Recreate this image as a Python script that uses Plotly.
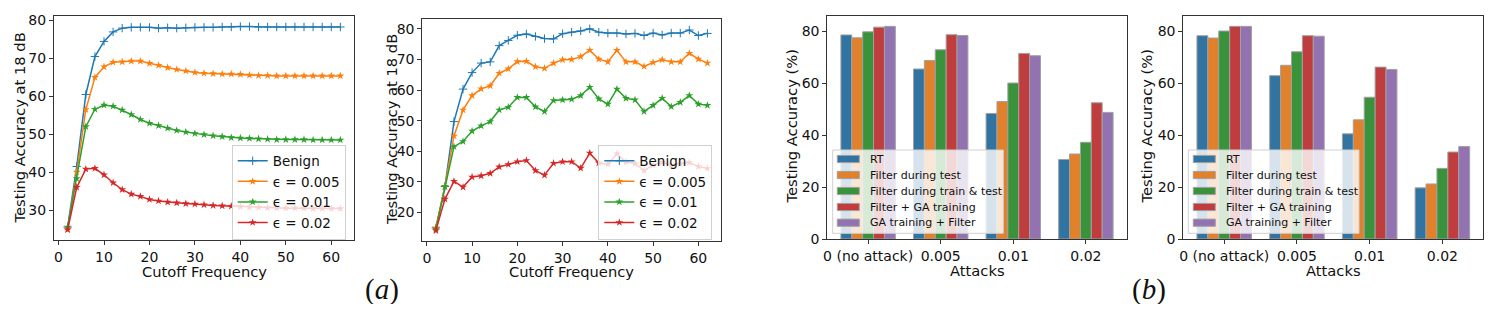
import plotly.graph_objects as go

# ---------------- data ----------------
cutoff = list(range(2, 64, 2))

# panel (a) left
benign_1 = [25.5, 41.5, 60.5, 70.5, 74.5, 77.0, 78.0, 78.2, 78.2, 78.2, 78.0, 78.1, 78.0, 78.1, 78.2,
            78.2, 78.2, 78.3, 78.3, 78.4, 78.4, 78.3, 78.3, 78.3, 78.3, 78.3, 78.3, 78.3, 78.3, 78.3, 78.3]
eps005_1 = [25.0, 40.0, 56.5, 65.0, 67.8, 69.0, 69.1, 69.3, 69.3, 68.7, 68.2, 67.6, 67.1, 66.7, 66.3,
            66.1, 66.0, 65.9, 65.9, 65.8, 65.6, 65.5, 65.5, 65.4, 65.4, 65.4, 65.4, 65.4, 65.4, 65.4, 65.4]
eps01_1 = [25.5, 38.3, 52.0, 56.6, 57.7, 57.4, 56.4, 55.2, 53.9, 52.9, 52.3, 51.6, 51.0, 50.6, 50.2,
           49.9, 49.6, 49.4, 49.1, 49.0, 48.9, 48.8, 48.7, 48.6, 48.6, 48.6, 48.6, 48.5, 48.5, 48.5, 48.5]
eps02_1 = [24.8, 36.0, 40.8, 41.0, 39.3, 37.2, 35.4, 34.2, 33.6, 32.8, 32.4, 32.1, 31.9, 31.7, 31.6,
           31.4, 31.2, 31.1, 31.0, 30.9, 30.8, 30.7, 30.6, 30.6, 30.5, 30.5, 30.5, 30.4, 30.4, 30.4, 30.4]

# panel (a) right
benign_2 = [15.0, 28.5, 49.7, 60.3, 65.7, 68.8, 69.2, 74.5, 76.2, 77.9, 78.3, 77.5, 76.8, 76.7, 78.4,
            78.9, 79.3, 80.0, 78.9, 78.6, 78.6, 78.3, 78.5, 77.8, 78.6, 78.0, 78.6, 78.6, 79.6, 77.8, 78.5]
eps005_2 = [15.0, 28.5, 45.0, 53.5, 58.2, 60.4, 61.4, 65.5, 66.9, 69.3, 69.4, 67.6, 67.1, 68.8, 69.9,
            70.0, 70.9, 73.0, 70.1, 69.2, 73.0, 69.2, 69.2, 67.7, 69.0, 69.9, 69.2, 69.2, 72.0, 70.1, 68.8]
eps01_2 = [14.6, 28.5, 41.5, 43.2, 46.6, 48.3, 49.7, 53.5, 54.4, 57.6, 57.6, 54.5, 53.0, 56.6, 56.8,
           57.0, 58.2, 60.9, 57.1, 55.4, 60.3, 57.3, 56.8, 53.0, 55.0, 57.3, 54.6, 56.0, 58.2, 55.4, 55.0]
eps02_2 = [14.1, 24.4, 30.2, 28.3, 31.6, 32.0, 32.8, 34.9, 35.7, 36.6, 37.0, 33.7, 32.2, 36.1, 36.6,
           36.6, 34.5, 39.4, 36.2, 35.8, 39.2, 36.5, 36.0, 33.7, 35.5, 36.4, 35.5, 36.0, 36.3, 35.0, 34.4]

line_names = ["Benign", "ϵ = 0.005", "ϵ = 0.01", "ϵ = 0.02"]

# panel (b)
attacks = ["0 (no attack)", "0.005", "0.01", "0.02"]
bar_names = ["RT", "Filter during test", "Filter during train & test", "Filter + GA training", "GA training + Filter"]
bars_1 = [
    [78.5, 65.4, 48.3, 30.6],
    [77.4, 68.7, 52.9, 32.7],
    [79.7, 72.8, 60.0, 37.2],
    [81.5, 78.6, 71.4, 52.4],
    [81.8, 78.3, 70.5, 48.7],
]
bars_2 = [
    [78.3, 62.9, 40.5, 19.7],
    [77.4, 66.9, 45.9, 21.2],
    [80.1, 72.1, 54.6, 27.2],
    [81.9, 78.3, 66.2, 33.5],
    [81.9, 78.1, 65.3, 35.6],
]

# ---------------- style ----------------
PAGE_OFF = 8            # default body margin of the html page
W, H = 1498 - 2 * PAGE_OFF, 312 - 2 * PAGE_OFF   # page stays exactly 1498x312
line_colors = ["#1f77b4", "#ff7f0e", "#2ca02c", "#d62728"]
bar_colors = ["#3274a1", "#e1812c", "#3a923a", "#c03d3e", "#9372b2"]
bar_edge = "#a0a0a0"
FONT = "DejaVu Sans"
TXT = "#111111"


def px_x(p):
    return (p - PAGE_OFF) / W


def px_y(p):
    return 1 - (p - PAGE_OFF) / H


fig = go.Figure()

line_sets = [
    ("x", "y", "legend", [benign_1, eps005_1, eps01_1, eps02_1]),
    ("x2", "y2", "legend2", [benign_2, eps005_2, eps01_2, eps02_2]),
]
for xa, ya, lg, series in line_sets:
    for i, (name, vals) in enumerate(zip(line_names, series)):
        sym = "cross-thin" if i == 0 else "star"
        fig.add_trace(go.Scatter(
            x=cutoff, y=vals, name=name, mode="lines+markers",
            xaxis=xa, yaxis=ya, legend=lg,
            line=dict(color=line_colors[i], width=1.5),
            marker=dict(symbol=sym, size=6, color=line_colors[i],
                        line=dict(color=line_colors[i], width=1 if i == 0 else 0)),
        ))

bar_sets = [("x3", "y3", bars_1), ("x4", "y4", bars_2)]
for xa, ya, series in bar_sets:
    for i, (name, vals) in enumerate(zip(bar_names, series)):
        fig.add_trace(go.Bar(
            x=attacks, y=vals, name=name, xaxis=xa, yaxis=ya, showlegend=False,
            marker=dict(color=bar_colors[i], line=dict(color=bar_edge, width=1)),
        ))

axis_common = dict(
    showline=True, mirror=True, linecolor="#333333", linewidth=1,
    ticks="outside", ticklen=4, tickcolor="#333333", tickwidth=1,
    showgrid=False, zeroline=False, automargin=False,
    tickfont=dict(family=FONT, size=14, color=TXT),
)

dom_x = [(54, 354), (422.3, 721), (827.3, 1126.7), (1183.3, 1483.3)]
dom_y = [(16, 240), (19, 240.7), (15.7, 239), (15.7, 239)]

layout = dict(
    width=W, height=H, margin=dict(l=0, r=0, t=0, b=0, autoexpand=False),
    paper_bgcolor="white", plot_bgcolor="white",
    barmode="group", bargap=0.25, bargroupgap=0,
    font=dict(family=FONT, size=14, color=TXT),
)

x_ranges = [[-1, 65], [-1, 65], [-0.5625, 3.5625], [-0.5625, 3.5625]]
y_ranges = [[22.1, 81.2], [10.8, 83.2], [0, 85.9], [0, 86.0]]
y_ticks = [[30, 40, 50, 60, 70, 80], [20, 30, 40, 50, 60, 70, 80], [0, 20, 40, 60, 80], [0, 20, 40, 60, 80]]

for k in range(4):
    xn = "xaxis" if k == 0 else f"xaxis{k+1}"
    yn = "yaxis" if k == 0 else f"yaxis{k+1}"
    xid = "x" if k == 0 else f"x{k+1}"
    yid = "y" if k == 0 else f"y{k+1}"
    xd = [px_x(dom_x[k][0]), px_x(dom_x[k][1])]
    yd = [px_y(dom_y[k][1]), px_y(dom_y[k][0])]
    xa = dict(axis_common, domain=xd, anchor=yid, range=x_ranges[k])
    if k < 2:
        xa.update(tickvals=[0, 10, 20, 30, 40, 50, 60])
    else:
        xa.update(type="category")
    ya = dict(axis_common, domain=yd, anchor=xid, range=y_ranges[k], tickvals=y_ticks[k])
    layout[xn] = xa
    layout[yn] = ya

# plotly legends for the line panels
legend_pos = [(231.7, 144.5), (598.3, 144.5)]
for k, (lx, ly) in enumerate(legend_pos):
    ln = "legend" if k == 0 else f"legend{k+1}"
    layout[ln] = dict(
        x=px_x(lx), y=px_y(ly), xanchor="left", yanchor="top",
        xref="paper", yref="paper",
        bgcolor="rgba(255,255,255,0.8)", bordercolor="#d0d0d0", borderwidth=1,
        font=dict(family=FONT, size=13.5, color=TXT),
        tracegroupgap=0, itemwidth=30,
    )

fig.update_layout(**layout)

# legends for the bar panels (patch + label, matplotlib-like spacing)
shapes = []
bar_legends = [(832.7, 1003.3, 837.3, 868.3), (1188.3, 1359.0, 1193.3, 1224.3)]
row_y = [159.0, 175.0, 191.0, 207.0, 222.7]
for (bx0, bx1, patch_x, text_x) in bar_legends:
    shapes.append(dict(
        type="rect", xref="paper", yref="paper", layer="above",
        x0=px_x(bx0), x1=px_x(bx1), y0=px_y(233.3), y1=px_y(150.0),
        fillcolor="rgba(255,255,255,0.8)", line=dict(color="#d0d0d0", width=1),
    ))
    for i, name in enumerate(bar_names):
        ry = row_y[i]
        shapes.append(dict(
            type="rect", xref="paper", yref="paper", layer="above",
            x0=px_x(patch_x), x1=px_x(patch_x + 22), y0=px_y(ry + 3.6), y1=px_y(ry - 3.6),
            fillcolor=bar_colors[i], line=dict(color=bar_edge, width=1),
        ))
        fig.add_annotation(
            text=name, x=px_x(text_x), y=px_y(ry), xref="paper", yref="paper",
            xanchor="left", yanchor="middle", showarrow=False,
            font=dict(family=FONT, size=11, color=TXT),
        )
fig.update_layout(shapes=shapes)

annots = [
    ("Testing Accuracy at 18 dB", 18.5, 128, -90),
    ("Testing Accuracy at 18 dB", 391, 130, -90),
    ("Testing Accuracy (%)", 791.5, 127, -90),
    ("Testing Accuracy (%)", 1146.5, 127, -90),
    ("Cutoff Frequency", 204, 271.5, 0),
    ("Cutoff Frequency", 571.5, 271.5, 0),
    ("Attacks", 977, 270, 0),
    ("Attacks", 1333, 270, 0),
]
for text, ax_, ay_, ang in annots:
    fig.add_annotation(
        text=text, x=px_x(ax_), y=px_y(ay_), xref="paper", yref="paper",
        xanchor="center", yanchor="middle", textangle=ang, showarrow=False,
        font=dict(family=FONT, size=14.7, color=TXT),
    )

for text, ax_, ay_ in [("(<i>a</i>)", 382, 289), ("(<i>b</i>)", 1149, 289)]:
    fig.add_annotation(
        text=text, x=px_x(ax_), y=px_y(ay_), xref="paper", yref="paper",
        xanchor="center", yanchor="middle", showarrow=False,
        font=dict(family="Liberation Serif", size=29, color=TXT),
    )

fig.write_html("out.html", config={"displayModeBar": False})
